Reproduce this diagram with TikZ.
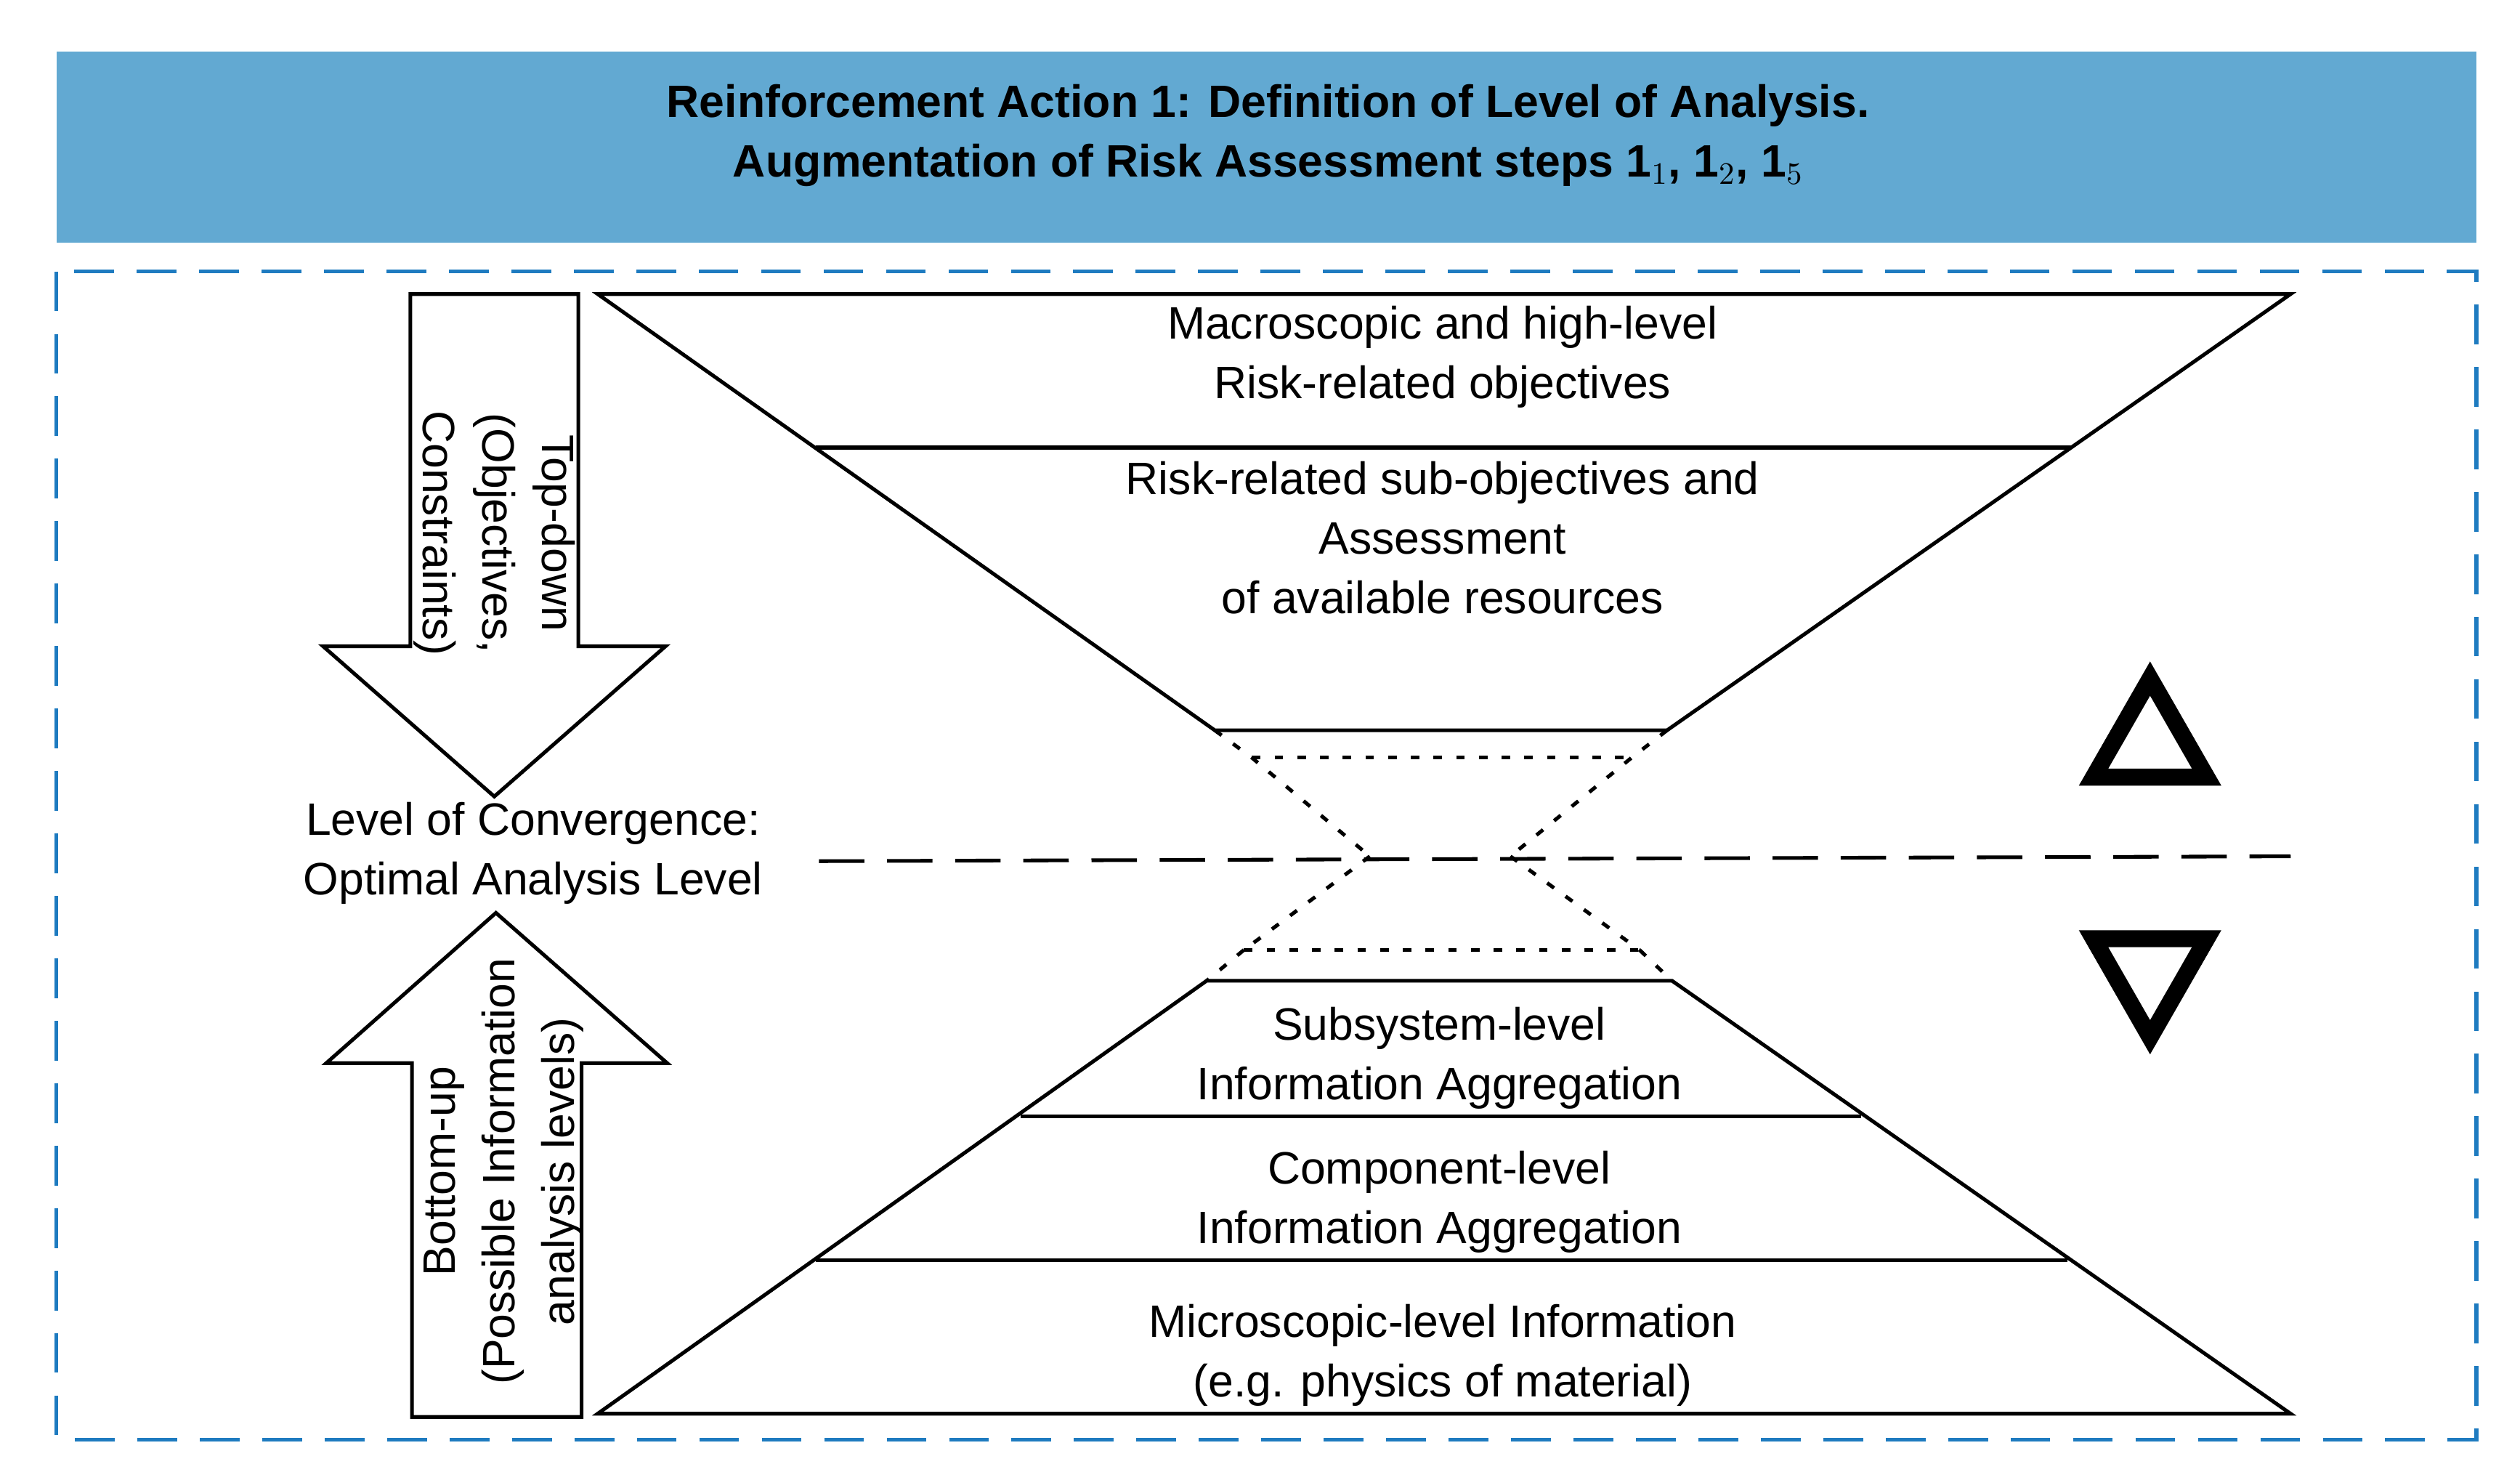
\documentclass[tikz,border=0pt]{standalone}
\usepackage{fontspec}
\setmainfont{Liberation Sans}
\begin{document}
\begin{tikzpicture}[x=0.02cm,y=-0.02cm,
  lbl/.style={align=center,font=\fontsize{16}{21}\selectfont},
  ln/.style={line width=1.3pt},
  dt/.style={line width=1.3pt,dash pattern=on 3pt off 5pt},
  tri/.style={line width=6pt,line join=miter}]
\definecolor{bar}{HTML}{62A9D2}
\definecolor{frame}{HTML}{1E7BC0}
\useasboundingbox (0,0) rectangle (1560,916);
\fill[white] (0,0) rectangle (1560,916);
\fill[bar] (35,32) rectangle (1533,150);
\node[lbl,font=\bfseries\fontsize{16}{21}\selectfont] (title) at (785,84) {Reinforcement Action 1: Definition of Level of Analysis.\\Augmentation of Risk Assessment steps 1$_1$, 1$_2$, 1$_5$};
\draw[frame,line width=1.3pt,dash pattern=on 14pt off 8pt] (35,168) rectangle (1533,891);
% top trapezoid
\draw[ln] (370,182) -- (1418,182) -- (1032,452) -- (752,452) -- cycle;
\draw[ln] (505,277) -- (1282,277);
\draw[dt] (775,469) -- (1010,469);
\draw[dt] (752,452) -- (775,469) -- (848,530);
\draw[dt] (1032,452) -- (1010,469) -- (935,530);
\draw[dt] (848,530) -- (770,588);
\draw[dt] (935,530) -- (1015,588);
\draw[dt] (770,588) -- (1015,588);
\draw[dt] (770,588) -- (747,607);
\draw[dt] (1015,588) -- (1035,607);
% bottom trapezoid
\draw[ln] (747,607) -- (1035,607) -- (1418,875) -- (370,875) -- cycle;
\draw[ln] (632,691) -- (1152,691);
\draw[ln] (505,780) -- (1280,780);
\draw[line width=1.3pt,dash pattern=on 16pt off 8pt] (507,533) -- (1418,530);
% labels
\node[lbl] (t1) at (893,221) {Macroscopic and high-level\\Risk-related objectives};
\node[lbl] (t2) at (893,333) {Risk-related sub-objectives and\\Assessment\\of available resources};
\node[lbl] (t3) at (891,655) {Subsystem-level\\Information Aggregation};
\node[lbl] (t4) at (891,744) {Component-level\\Information Aggregation};
\node[lbl] (t5) at (893,839) {Microscopic-level Information\\(e.g. physics of material)};
\node[lbl] (conv) at (330,528) {Level of Convergence:\\Optimal Analysis Level};
% arrows
\draw[ln,line join=miter] (254,182) -- (358,182) -- (358,400) -- (412,400) -- (306,493) -- (200,400) -- (254,400) -- cycle;
\node[lbl,rotate=-90] (td) at (306,330) {Top-down\\(Objectives,\\Constraints)};
\draw[ln,line join=miter] (255,877) -- (360,877) -- (360,658) -- (413,658) -- (307,565) -- (202,658) -- (255,658) -- cycle;
\node[lbl,rotate=90] (bu) at (312,725) {Bottom-up\\(Possible Information\\analysis levels)};
% triangles
\draw[tri] (1331,420) -- (1296,481) -- (1366,481) -- cycle;
\draw[tri] (1296,581) -- (1366,581) -- (1331,642) -- cycle;
\end{tikzpicture}
\end{document}
